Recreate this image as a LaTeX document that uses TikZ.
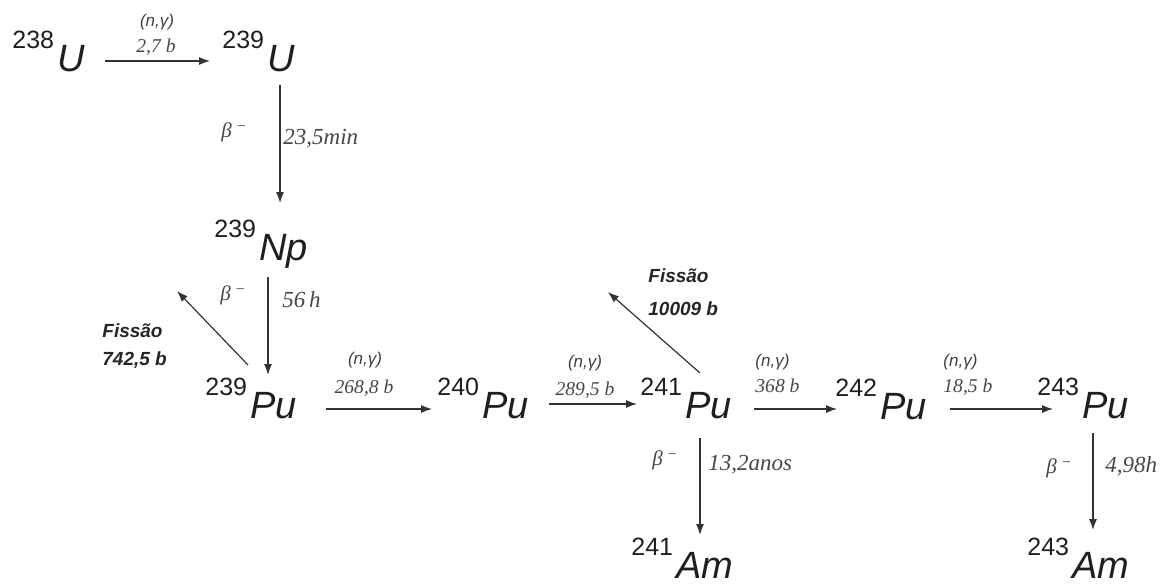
\documentclass[tikz,border=0pt]{standalone}
\usepackage{fontspec}
\setmainfont{Liberation Sans}
\newfontfamily\tmsfont{Liberation Serif}
\usetikzlibrary{arrows.meta}
\newcommand{\nuc}[2]{\raisebox{11.5pt}{\fontsize{12.5}{12.5}\selectfont #1}\hspace{1.5pt}{\fontsize{19}{19}\selectfont\itshape #2}}
\newcommand{\bmin}{\itshape β\hspace{2.5pt}\raisebox{0.6ex}{\fontsize{8}{8}\selectfont\upshape −}}

\begin{document}
\begin{tikzpicture}[x=0.5pt,y=0.5pt,
    iso/.style={anchor=base west,inner sep=0pt,text=black!88},
    arr/.style={-{Latex[length=5.5pt,width=4pt]},line width=0.6pt,draw=black!80},
    ng/.style={inner sep=0pt,font=\fontsize{8.5}{8.5}\selectfont\itshape,text=black!75},
    val/.style={inner sep=0pt,font=\fontsize{9.8}{9.8}\selectfont\tmsfont\itshape,text=black!72},
    half/.style={inner sep=0pt,anchor=base west,font=\fontsize{11.5}{11.5}\selectfont\tmsfont\itshape,text=black!72},
    beta/.style={inner sep=0pt,anchor=base west,font=\fontsize{10.5}{10.5}\selectfont\tmsfont,text=black!72},
    fis/.style={inner sep=0pt,anchor=base west,align=left,font=\fontsize{9.5}{14}\selectfont\bfseries\itshape,text=black!85}]
\useasboundingbox (0,0) rectangle (1170,-583);

\node[iso] (u238) at (12,-72) {\nuc{238}{U}};
\node[iso] (u239) at (222,-72) {\nuc{239}{U}};
\node[iso] (np239) at (214,-260) {\nuc{239}{Np}};
\node[iso] (pu239) at (205,-418) {\nuc{239}{Pu}};
\node[iso] (pu240) at (437,-418) {\nuc{240}{Pu}};
\node[iso] (pu241) at (640,-418) {\nuc{241}{Pu}};
\node[iso] (pu242) at (835,-419) {\nuc{242}{Pu}};
\node[iso] (pu243) at (1037,-418) {\nuc{243}{Pu}};
\node[iso] (am241) at (631,-578) {\nuc{241}{Am}};
\node[iso] (am243) at (1027,-578) {\nuc{243}{Am}};

\coordinate (f239) at (177,-291);
\coordinate (f241) at (608,-292);

\draw[arr] ([shift={(20,11)}]u238.base east) -- ([shift={(-12,11)}]u239.base west);
\draw[arr] ([shift={(29,9)}]pu239.base east) -- ([shift={(-5,9)}]pu240.base west);
\draw[arr] ([shift={(20,14)}]pu240.base east) -- ([shift={(-3,14)}]pu241.base west);
\draw[arr] ([shift={(22,9)}]pu241.base east) -- ([shift={(2,10)}]pu242.base west);
\draw[arr] ([shift={(23,10)}]pu242.base east) -- ([shift={(16,9)}]pu243.base west);
\draw[arr] ([shift={(58,-13)}]u239.base west) -- ([shift={(66,57)}]np239.base west);
\draw[arr] ([shift={(54,-17)}]np239.base west) -- ([shift={(63,43)}]pu239.base west);
\draw[arr] ([shift={(60,-20)}]pu241.base west) -- ([shift={(69,43)}]am241.base west);
\draw[arr] ([shift={(56,-15)}]pu243.base west) -- ([shift={(66,48)}]am243.base west);
\draw[arr] ([shift={(43,53)}]pu239.base west) -- (f239);
\draw[arr] ([shift={(60,45)}]pu241.base west) -- (f241);

\node[ng,anchor=base] (ng1) at (157,-27) {(n,γ)};
\node[val,anchor=base] (v1) at (156,-53) {2,7 b};
\node[ng,anchor=base] (ng2) at (365,-364) {(n,γ)};
\node[val,anchor=base] (v2) at (364,-393) {268,8 b};
\node[ng,anchor=base] (ng3) at (585,-367) {(n,γ)};
\node[val,anchor=base] (v3) at (585,-395) {289,5 b};
\node[ng,anchor=base west] (ng4) at (755,-366) {(n,γ)};
\node[val,anchor=base west] (v4) at (755,-392) {368 b};
\node[ng,anchor=base west] (ng5) at (943,-366) {(n,γ)};
\node[val,anchor=base west] (v5) at (943,-392) {18,5 b};

\node[beta] (b1) at (221,-137) {\bmin};
\node[half] (t1) at (283,-144) {23,5min};
\node[beta] (b2) at (220,-300) {\bmin};
\node[half] (t2) at (282,-307) {56\,h};
\node[beta] (b3) at (652,-465) {\bmin};
\node[half] (t3) at (708,-470) {13,2anos};
\node[beta] (b4) at (1046,-473) {\bmin};
\node[half] (t4) at (1105,-472) {4,98h};

\node[fis] (fis1) at (102,-365) {Fissão\\742,5 b};
\node[fis] (fis2) at (648,-315) {Fissão\\[2.5pt]10009 b};
\end{tikzpicture}
\end{document}
